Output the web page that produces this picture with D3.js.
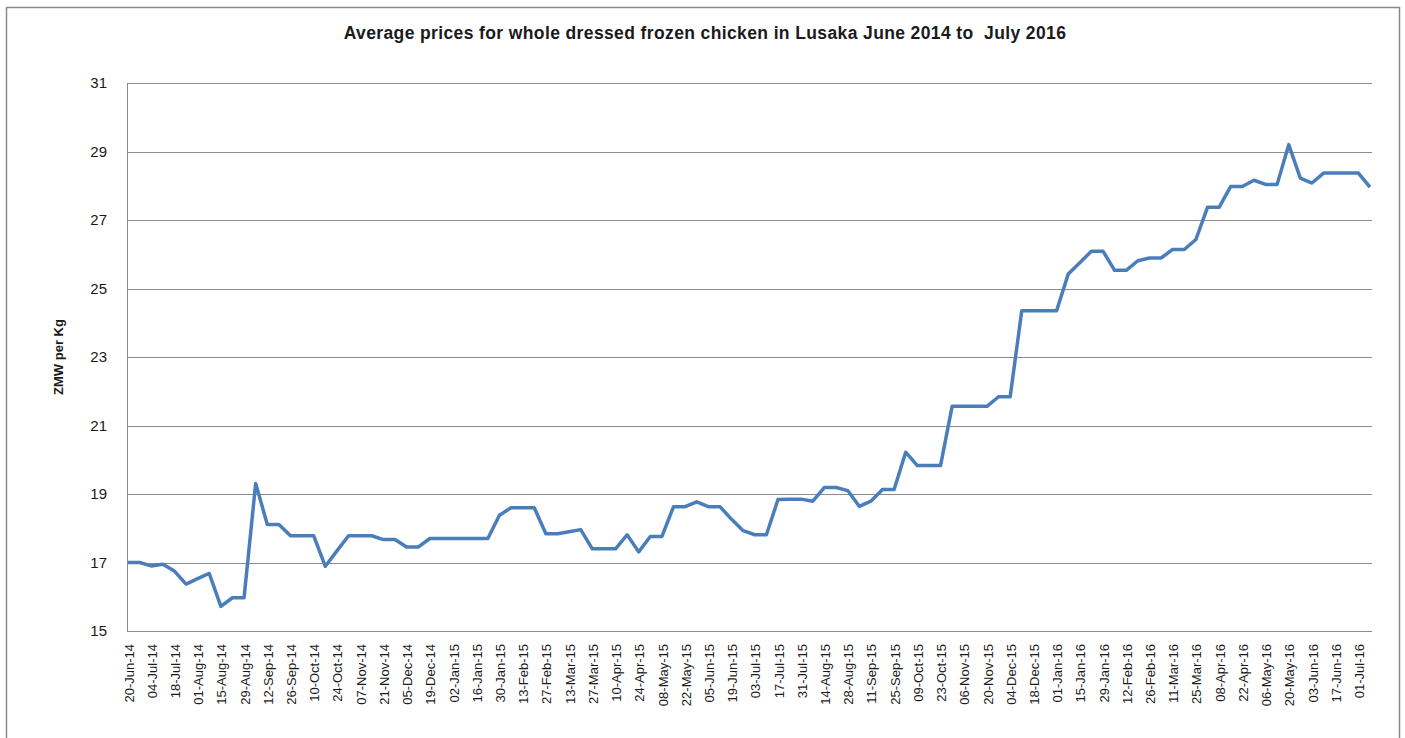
<!DOCTYPE html>
<html>
<head>
<meta charset="utf-8">
<script src="https://cdn.jsdelivr.net/npm/d3@7"></script>
<style>
  body { margin: 0; background: #fff; }
  svg { display: block; font-family: "Liberation Sans", Arial, sans-serif; }
</style>
</head>
<body>
<svg id="chart" width="1405" height="738"></svg>
<script>
// weekly average prices, ZMW per kg, 20-Jun-14 .. 08-Jul-16
const prices = [
  17.0, 17.0, 16.9, 16.95, 16.75, 16.37, 16.53, 16.68, 15.72, 15.97,
  15.97, 19.31, 18.11, 18.11, 17.78, 17.78, 17.78, 16.89, 17.34, 17.78,
  17.78, 17.78, 17.67, 17.67, 17.45, 17.45, 17.7, 17.7, 17.7, 17.7,
  17.7, 17.7, 18.38, 18.6, 18.6, 18.6, 17.84, 17.84, 17.9, 17.96,
  17.4, 17.4, 17.4, 17.81, 17.31, 17.76, 17.76, 18.63, 18.63, 18.77,
  18.63, 18.63, 18.26, 17.93, 17.81, 17.81, 18.84, 18.85, 18.85, 18.79,
  19.19, 19.19, 19.1, 18.64, 18.79, 19.13, 19.13, 20.22, 19.83, 19.83,
  19.83, 21.56, 21.56, 21.56, 21.56, 21.84, 21.84, 24.35, 24.35, 24.35,
  24.35, 25.42, 25.75, 26.09, 26.09, 25.53, 25.53, 25.81, 25.89, 25.89,
  26.14, 26.14, 26.43, 27.37, 27.37, 27.98, 27.98, 28.16, 28.04, 28.04,
  29.2, 28.22, 28.08, 28.37, 28.37, 28.37, 28.37, 27.96
];

// one label every second week
const tickLabels = [
  "20-Jun-14", "04-Jul-14", "18-Jul-14", "01-Aug-14", "15-Aug-14", "29-Aug-14",
  "12-Sep-14", "26-Sep-14", "10-Oct-14", "24-Oct-14", "07-Nov-14", "21-Nov-14",
  "05-Dec-14", "19-Dec-14", "02-Jan-15", "16-Jan-15", "30-Jan-15", "13-Feb-15",
  "27-Feb-15", "13-Mar-15", "27-Mar-15", "10-Apr-15", "24-Apr-15", "08-May-15",
  "22-May-15", "05-Jun-15", "19-Jun-15", "03-Jul-15", "17-Jul-15", "31-Jul-15",
  "14-Aug-15", "28-Aug-15", "11-Sep-15", "25-Sep-15", "09-Oct-15", "23-Oct-15",
  "06-Nov-15", "20-Nov-15", "04-Dec-15", "18-Dec-15", "01-Jan-16", "15-Jan-16",
  "29-Jan-16", "12-Feb-16", "26-Feb-16", "11-Mar-16", "25-Mar-16", "08-Apr-16",
  "22-Apr-16", "06-May-16", "20-May-16", "03-Jun-16", "17-Jun-16", "01-Jul-16"
];

const yTicks = [15, 17, 19, 21, 23, 25, 27, 29, 31];

const cfg = {
  left: 128,
  right: 1370,
  plotRight: 1372,
  top: 83,
  bottom: 631,
  lineColor: "#4a7ebb",
  gridColor: "#8c8c8c",
  textColor: "#1a1a1a",
};

const svg = d3.select("#chart");

// outer chart frame
svg.append("rect")
  .attr("x", 6.5).attr("y", 7.5)
  .attr("width", 1393).attr("height", 740)
  .attr("fill", "#fff")
  .attr("stroke", "#8a8a8a")
  .attr("stroke-width", 1.5);

const x = d3.scalePoint()
  .domain(d3.range(prices.length))
  .range([cfg.left, cfg.right]);

const y = d3.scaleLinear()
  .domain([15, 31])
  .range([cfg.bottom, cfg.top]);

// gridlines
svg.append("g")
  .selectAll("line")
  .data(yTicks)
  .join("line")
  .attr("x1", cfg.left)
  .attr("x2", cfg.plotRight)
  .attr("y1", (d) => Math.round(y(d)) + 0.5)
  .attr("y2", (d) => Math.round(y(d)) + 0.5)
  .attr("stroke", cfg.gridColor)
  .attr("stroke-width", 1);

// y axis line
svg.append("line")
  .attr("x1", cfg.left - 0.5).attr("x2", cfg.left - 0.5)
  .attr("y1", cfg.top).attr("y2", cfg.bottom + 1)
  .attr("stroke", cfg.gridColor);

// y tick labels
svg.append("g")
  .selectAll("text")
  .data(yTicks)
  .join("text")
  .attr("x", 107)
  .attr("y", (d) => y(d))
  .attr("dy", "0.35em")
  .attr("text-anchor", "end")
  .attr("font-size", 15)
  .attr("fill", cfg.textColor)
  .text((d) => d);

// x tick labels, rotated
svg.append("g")
  .selectAll("text")
  .data(tickLabels)
  .join("text")
  .attr("transform", (d, i) => `translate(${x(i * 2) + 1},${cfg.bottom + 13}) rotate(-90)`)
  .attr("dy", "0.35em")
  .attr("text-anchor", "end")
  .attr("font-size", 13)
  .attr("fill", cfg.textColor)
  .text((d) => d);

// price line
const line = d3.line()
  .x((d, i) => x(i))
  .y((d) => y(d));

svg.append("path")
  .datum(prices)
  .attr("d", line)
  .attr("fill", "none")
  .attr("stroke", cfg.lineColor)
  .attr("stroke-width", 3.5)
  .attr("stroke-linejoin", "round");

// title
svg.append("text")
  .attr("x", 705)
  .attr("y", 39)
  .attr("text-anchor", "middle")
  .attr("font-size", 17.5)
  .attr("font-weight", "bold")
  .attr("letter-spacing", 0.38)
  .attr("fill", cfg.textColor)
  .style("white-space", "pre")
  .text("Average prices for whole dressed frozen chicken in Lusaka June 2014 to  July 2016");

// y axis title
svg.append("text")
  .attr("transform", "translate(63,357) rotate(-90)")
  .attr("text-anchor", "middle")
  .attr("font-size", 13)
  .attr("font-weight", "bold")
  .attr("fill", cfg.textColor)
  .text("ZMW per Kg");
</script>
</body>
</html>
